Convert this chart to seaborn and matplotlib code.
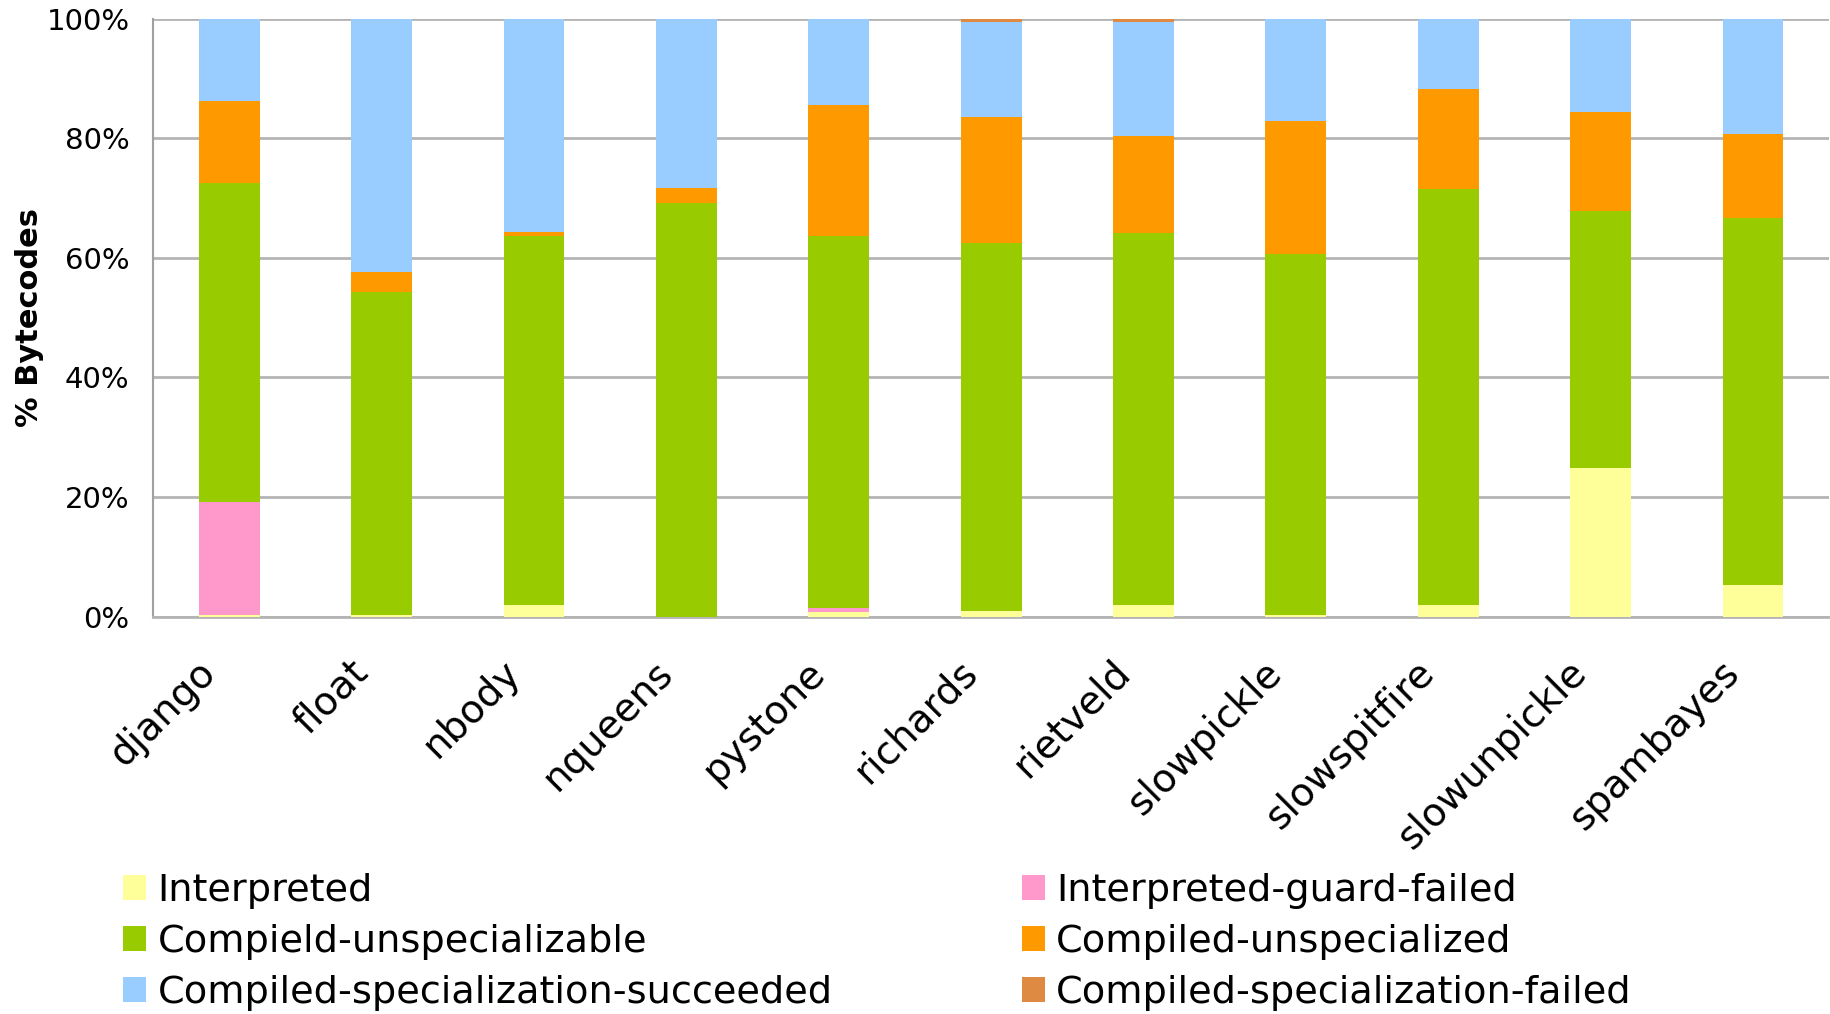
import matplotlib
matplotlib.use("Agg")
import matplotlib.pyplot as plt
import matplotlib.patches as mpatches
import matplotlib.transforms as mtransforms
from matplotlib.ticker import FixedLocator, PercentFormatter
import seaborn as sns
import pandas as pd
import numpy as np

benchmarks = ["django", "float", "nbody", "nqueens", "pystone", "richards",
              "rietveld", "slowpickle", "slowspitfire", "slowunpickle", "spambayes"]
series_labels = ["Interpreted", "Interpreted-guard-failed", "Compield-unspecializable",
                 "Compiled-unspecialized", "Compiled-specialization-succeeded",
                 "Compiled-specialization-failed"]
interpreted = [0.3, 0.3, 2.0, 0.0, 0.7, 1.0, 2.0, 0.3, 2.0, 24.8, 5.3]
guard_failed = [18.8, 0.0, 0.0, 0.0, 0.8, 0.0, 0.0, 0.0, 0.0, 0.0, 0.0]
unspecializable = [53.4, 54.0, 61.7, 69.1, 62.2, 61.5, 62.1, 60.4, 69.5, 43.0, 61.3]
unspecialized = [13.8, 3.3, 0.6, 2.6, 21.8, 21.1, 16.2, 22.1, 16.8, 16.6, 14.1]
spec_succeeded = [13.7, 42.4, 35.7, 28.3, 14.5, 15.8, 19.1, 17.2, 11.7, 15.6, 19.3]
spec_failed = [0.0, 0.0, 0.0, 0.0, 0.0, 0.6, 0.6, 0.0, 0.0, 0.0, 0.0]
colors = ["#FFFF99", "#FF99CC", "#99CC00", "#FF9900", "#99CCFF", "#DE8A42"]

sns.set_theme(style="white")
plt.rcParams['font.family'] = ['DejaVu Sans']
plt.rcParams['text.color'] = 'black'
plt.rcParams['axes.labelcolor'] = 'black'

values = np.array([interpreted, guard_failed, unspecializable, unspecialized,
                   spec_succeeded, spec_failed], dtype=float)
cum = np.cumsum(values, axis=0)

fig = plt.figure(figsize=(18.31, 10.14), dpi=100)
ax = fig.add_axes([0.0836, 0.392, 0.9154, 0.5896])

for i in range(len(series_labels) - 1, -1, -1):
    df = pd.DataFrame({"benchmark": benchmarks, "cum": cum[i]})
    sns.barplot(data=df, x="benchmark", y="cum", color=colors[i], width=0.4,
                saturation=1, ax=ax, zorder=3)
for p in ax.patches:
    p.set_edgecolor("none")
    p.set_linewidth(0)

ax.set_xlim(-0.5, len(benchmarks) - 0.5)
ax.set_ylim(0, 100)
ax.yaxis.set_major_locator(FixedLocator([0, 20, 40, 60, 80, 100]))
ax.yaxis.set_major_formatter(PercentFormatter(decimals=0))
ax.grid(axis="y", color="#B4B4B4", linewidth=2, zorder=0)
ax.set_axisbelow(True)
for s in ["top", "right"]:
    ax.spines[s].set_visible(False)
ax.spines["left"].set_color("#A0A0A0")
ax.spines["left"].set_linewidth(1.5)
ax.spines["bottom"].set_color("#B4B4B4")
ax.spines["bottom"].set_linewidth(2)

ax.set_xlabel("")
ax.set_ylabel("% Bytecodes", fontsize=22, fontweight="bold", labelpad=1.5, color="black")
ax.tick_params(axis="y", labelsize=21, length=0, pad=17, labelcolor="black")
ax.set_xticks(range(len(benchmarks)))
ax.set_xticklabels(benchmarks, rotation=45, ha="right", va="top",
                   rotation_mode="anchor", fontsize=28, color="black")
ax.tick_params(axis="x", which="major", length=0, pad=22)
offset = mtransforms.ScaledTranslation(-33 / 100, -6 / 100, fig.dpi_scale_trans)
for lbl in ax.get_xticklabels():
    lbl.set_transform(lbl.get_transform() + offset)
ax.set_xticks(np.arange(-0.5, len(benchmarks)), minor=True)
ax.tick_params(axis="x", which="minor", length=10, width=1.2, color="#A0A0A0")

handles = [mpatches.Patch(facecolor=colors[i], edgecolor="none") for i in range(6)]
order = [0, 2, 4, 1, 3, 5]
fig.legend([handles[i] for i in order], [series_labels[i] for i in order],
           ncol=2, loc="upper left", bbox_to_anchor=(0.0672, 0.139),
           frameon=False, fontsize=27.5, handlelength=0.6, handleheight=0.6,
           handletextpad=0.3, labelspacing=0.39, columnspacing=4.95,
           borderaxespad=0, borderpad=0)

fig.savefig("out.png", dpi=100)
